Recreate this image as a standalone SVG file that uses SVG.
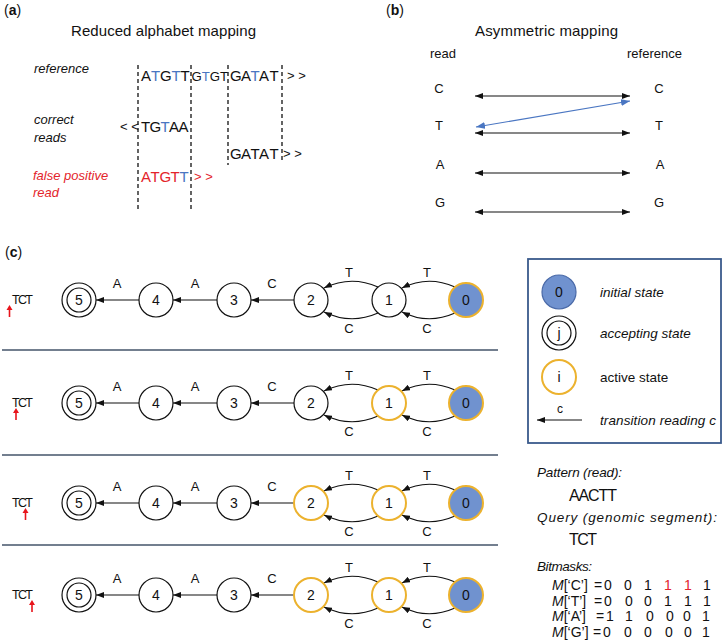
<svg xmlns="http://www.w3.org/2000/svg" width="724" height="644" viewBox="0 0 724 644">
<style>
text{font-family:"Liberation Sans",Arial,sans-serif;fill:#111}
.it{font-style:italic}
.b{font-weight:bold}
.blue{fill:#4a76c2}
.red{fill:#e3242b}
.seq{font-size:15px}
.sq2{font-size:13.2px}
.sm{font-size:13px}
.lab{font-size:13px}
.num{font-size:14px;text-anchor:middle}
.el{font-size:13px;text-anchor:middle}
.dash{stroke:#111;stroke-width:1.3;stroke-dasharray:4 3;fill:none}
.ln{stroke:#111;stroke-width:1.2;fill:none}
.bl{stroke:#4a76c2;stroke-width:1.2;fill:none}
.nd{fill:#fff;stroke:#111;stroke-width:1.2}
.act{fill:#fff;stroke:#ecb22e;stroke-width:2}
.ini{fill:#7092cf;stroke:#ecb22e;stroke-width:2}
.sep{stroke:#44546a;stroke-width:1.5}
.ra{stroke:#e8141b;stroke-width:1.6}
.bm{font-size:14px;text-anchor:middle}
.tct{font-size:12.5px}
</style>
<defs>
<marker id="ah" markerUnits="userSpaceOnUse" markerWidth="8" markerHeight="6" refX="8" refY="3" orient="auto-start-reverse"><path d="M0,0 L8,3 L0,6 z" fill="#111"/></marker>
<marker id="ahb" markerUnits="userSpaceOnUse" markerWidth="9" markerHeight="7" refX="9" refY="3.5" orient="auto-start-reverse"><path d="M0,0 L9,3.5 L0,7 z" fill="#4a76c2"/></marker>
</defs>

<!-- panel a -->
<g id="panel-a">
<text x="4" y="15" style="font-size:14px">(<tspan class="b">a</tspan>)</text>
<text x="71" y="35.5" style="font-size:15px" textLength="185">Reduced alphabet mapping</text>
<text x="34" y="73" class="lab it">reference</text>
<text x="34" y="124" class="lab it">correct</text>
<text x="34" y="141.5" class="lab it">reads</text>
<text x="33" y="180" class="lab it red">false positive</text>
<text x="33" y="197" class="lab it red">read</text>
<g id="dashes">
<line class="dash" x1="138" y1="65" x2="138" y2="212"/>
<line class="dash" x1="191" y1="65" x2="191" y2="212"/>
<line class="dash" x1="228" y1="65" x2="228" y2="165"/>
<line class="dash" x1="282" y1="65" x2="282" y2="163"/>
</g>
<text y="81" class="seq"><tspan x="141">A</tspan><tspan x="151" class="blue">T</tspan><tspan x="160">G</tspan><tspan x="171.5" class="blue">T</tspan><tspan x="180.5">T</tspan><tspan x="191.5" class="sq2">G</tspan><tspan x="201.8" class="sq2 blue">T</tspan><tspan x="209.8" class="sq2">G</tspan><tspan x="220" class="sq2">T</tspan><tspan x="230">G</tspan><tspan x="241">A</tspan><tspan x="250.5" class="blue">T</tspan><tspan x="259">A</tspan><tspan x="269.5">T</tspan><tspan x="287" y="80" class="sm">&gt; &gt;</tspan></text>
<text y="131" class="sm"><tspan x="120">&lt; &lt;</tspan><tspan x="141" y="132" class="seq">T</tspan><tspan x="149.5" class="seq">G</tspan><tspan x="160.5" class="seq blue">T</tspan><tspan x="169" class="seq">A</tspan><tspan x="178.5" class="seq">A</tspan></text>
<text y="159" class="seq"><tspan x="230">G</tspan><tspan x="241">A</tspan><tspan x="250.5">T</tspan><tspan x="259">A</tspan><tspan x="269.5">T</tspan><tspan x="283" y="158" class="sm">&gt; &gt;</tspan></text>
<text y="182" class="seq red"><tspan x="141">A</tspan><tspan x="150.5">T</tspan><tspan x="159.5">G</tspan><tspan x="170.5">T</tspan><tspan x="179.5" class="blue">T</tspan><tspan x="194" y="181" class="sm">&gt; &gt;</tspan></text>
</g>

<!-- panel b -->
<g id="panel-b">
<text x="386" y="15" style="font-size:14px">(<tspan class="b">b</tspan>)</text>
<text x="475" y="35.5" style="font-size:15px" textLength="143">Asymmetric mapping</text>
<text x="430" y="58" class="lab">read</text>
<text x="627" y="58" class="lab">reference</text>
<g id="b-read">
<text x="439" y="93" class="el">C</text>
<text x="439" y="130" class="el">T</text>
<text x="440" y="169" class="el">A</text>
<text x="440" y="206.5" class="el">G</text>
</g>
<g id="b-ref">
<text x="659" y="93" class="el">C</text>
<text x="659" y="130" class="el">T</text>
<text x="660" y="169" class="el">A</text>
<text x="659" y="206.5" class="el">G</text>
</g>
<g id="b-connectors">
<line class="ln" x1="475" y1="96" x2="630" y2="96" marker-start="url(#ah)" marker-end="url(#ah)"/>
<line class="ln" x1="475" y1="133" x2="630" y2="133" marker-start="url(#ah)" marker-end="url(#ah)"/>
<line class="ln" x1="475" y1="173" x2="630" y2="173" marker-start="url(#ah)" marker-end="url(#ah)"/>
<line class="ln" x1="475" y1="212" x2="630" y2="212" marker-start="url(#ah)" marker-end="url(#ah)"/>
<line class="bl" x1="476" y1="127" x2="630" y2="101" marker-start="url(#ahb)" marker-end="url(#ahb)"/>
</g>
</g>

<!-- panel c -->
<text x="5" y="257" style="font-size:14px">(<tspan class="b">c</tspan>)</text>
<g id="separators">
<line class="sep" x1="2" y1="350" x2="498" y2="350"/>
<line class="sep" x1="2" y1="455" x2="498" y2="455"/>
<line class="sep" x1="2" y1="545" x2="498" y2="545"/>
</g>

<!-- row label TCT + red pointers -->
<g id="row-labels">
<text x="12" y="304" class="tct" textLength="21">TCT</text>
<line class="ra" x1="9.5" y1="317" x2="9.5" y2="309"/><path d="M6.5,310 L9.5,305 L12.5,310 z" fill="#e8141b"/>
<text x="12" y="407" class="tct" textLength="21">TCT</text>
<line class="ra" x1="16" y1="420" x2="16" y2="412"/><path d="M13,413 L16,408 L19,413 z" fill="#e8141b"/>
<text x="12" y="507" class="tct" textLength="21">TCT</text>
<line class="ra" x1="25.5" y1="520" x2="25.5" y2="512"/><path d="M22.5,513 L25.5,508 L28.5,513 z" fill="#e8141b"/>
<text x="12" y="599" class="tct" textLength="21">TCT</text>
<line class="ra" x1="32" y1="612" x2="32" y2="604"/><path d="M29,605 L32,600 L35,605 z" fill="#e8141b"/>
</g>

<g id="connectors">
<!-- row 1 y=300 -->
<line class="ln" x1="294" y1="300" x2="251" y2="300" marker-end="url(#ah)"/>
<line class="ln" x1="217" y1="300" x2="173" y2="300" marker-end="url(#ah)"/>
<line class="ln" x1="139" y1="300" x2="96" y2="300" marker-end="url(#ah)"/>
<path class="ln" d="M378,287 Q351,275 324,288" marker-end="url(#ah)"/>
<path class="ln" d="M378,313 Q351,325 324,312" marker-end="url(#ah)"/>
<path class="ln" d="M455,287 Q428,275 402,288" marker-end="url(#ah)"/>
<path class="ln" d="M455,313 Q428,325 402,312" marker-end="url(#ah)"/>
<!-- row 2 y=403 -->
<line class="ln" x1="294" y1="403" x2="251" y2="403" marker-end="url(#ah)"/>
<line class="ln" x1="217" y1="403" x2="173" y2="403" marker-end="url(#ah)"/>
<line class="ln" x1="139" y1="403" x2="96" y2="403" marker-end="url(#ah)"/>
<path class="ln" d="M378,390 Q351,378 324,391" marker-end="url(#ah)"/>
<path class="ln" d="M378,416 Q351,428 324,415" marker-end="url(#ah)"/>
<path class="ln" d="M455,390 Q428,378 402,391" marker-end="url(#ah)"/>
<path class="ln" d="M455,416 Q428,428 402,415" marker-end="url(#ah)"/>
<!-- row 3 y=503 -->
<line class="ln" x1="294" y1="503" x2="251" y2="503" marker-end="url(#ah)"/>
<line class="ln" x1="217" y1="503" x2="173" y2="503" marker-end="url(#ah)"/>
<line class="ln" x1="139" y1="503" x2="96" y2="503" marker-end="url(#ah)"/>
<path class="ln" d="M378,490 Q351,478 324,491" marker-end="url(#ah)"/>
<path class="ln" d="M378,516 Q351,528 324,515" marker-end="url(#ah)"/>
<path class="ln" d="M455,490 Q428,478 402,491" marker-end="url(#ah)"/>
<path class="ln" d="M455,516 Q428,528 402,515" marker-end="url(#ah)"/>
<!-- row 4 y=595 -->
<line class="ln" x1="294" y1="595" x2="251" y2="595" marker-end="url(#ah)"/>
<line class="ln" x1="217" y1="595" x2="173" y2="595" marker-end="url(#ah)"/>
<line class="ln" x1="139" y1="595" x2="96" y2="595" marker-end="url(#ah)"/>
<path class="ln" d="M378,582 Q351,570 324,583" marker-end="url(#ah)"/>
<path class="ln" d="M378,608 Q351,620 324,607" marker-end="url(#ah)"/>
<path class="ln" d="M455,582 Q428,570 402,583" marker-end="url(#ah)"/>
<path class="ln" d="M455,608 Q428,620 402,607" marker-end="url(#ah)"/>
<!-- legend arrow -->
<line class="ln" x1="582" y1="420" x2="537" y2="420" marker-end="url(#ah)"/>
</g>

<g id="edge-labels">
<text x="117" y="288" class="el">A</text><text x="195" y="288" class="el">A</text><text x="272" y="288" class="el">C</text>
<text x="349" y="277" class="el">T</text><text x="427" y="277" class="el">T</text><text x="349" y="333" class="el">C</text><text x="427" y="333" class="el">C</text>
<text x="117" y="391" class="el">A</text><text x="195" y="391" class="el">A</text><text x="272" y="391" class="el">C</text>
<text x="349" y="380" class="el">T</text><text x="427" y="380" class="el">T</text><text x="349" y="436" class="el">C</text><text x="427" y="436" class="el">C</text>
<text x="117" y="491" class="el">A</text><text x="195" y="491" class="el">A</text><text x="272" y="491" class="el">C</text>
<text x="349" y="480" class="el">T</text><text x="427" y="480" class="el">T</text><text x="349" y="536" class="el">C</text><text x="427" y="536" class="el">C</text>
<text x="117" y="583" class="el">A</text><text x="195" y="583" class="el">A</text><text x="272" y="583" class="el">C</text>
<text x="349" y="572" class="el">T</text><text x="427" y="572" class="el">T</text><text x="349" y="628" class="el">C</text><text x="427" y="628" class="el">C</text>
</g>

<!-- row 1 nodes -->
<g id="r1-n5"><circle class="nd" cx="79" cy="300" r="17"/><circle class="nd" cx="79" cy="300" r="12"/><text x="79" y="305" class="num">5</text></g>
<g id="r1-n4"><circle class="nd" cx="156" cy="300" r="17"/><text x="156" y="305" class="num">4</text></g>
<g id="r1-n3"><circle class="nd" cx="234" cy="300" r="17"/><text x="234" y="305" class="num">3</text></g>
<g id="r1-n2"><circle class="nd" cx="311" cy="300" r="17"/><text x="311" y="305" class="num">2</text></g>
<g id="r1-n1"><circle class="nd" cx="389" cy="300" r="17"/><text x="389" y="305" class="num">1</text></g>
<g id="r1-n0"><circle class="ini" cx="466" cy="300" r="17"/><text x="466" y="305" class="num">0</text></g>
<!-- row 2 -->
<g id="r2-n5"><circle class="nd" cx="79" cy="403" r="17"/><circle class="nd" cx="79" cy="403" r="12"/><text x="79" y="408" class="num">5</text></g>
<g id="r2-n4"><circle class="nd" cx="156" cy="403" r="17"/><text x="156" y="408" class="num">4</text></g>
<g id="r2-n3"><circle class="nd" cx="234" cy="403" r="17"/><text x="234" y="408" class="num">3</text></g>
<g id="r2-n2"><circle class="nd" cx="311" cy="403" r="17"/><text x="311" y="408" class="num">2</text></g>
<g id="r2-n1"><circle class="act" cx="389" cy="403" r="17"/><text x="389" y="408" class="num">1</text></g>
<g id="r2-n0"><circle class="ini" cx="466" cy="403" r="17"/><text x="466" y="408" class="num">0</text></g>
<!-- row 3 -->
<g id="r3-n5"><circle class="nd" cx="79" cy="503" r="17"/><circle class="nd" cx="79" cy="503" r="12"/><text x="79" y="508" class="num">5</text></g>
<g id="r3-n4"><circle class="nd" cx="156" cy="503" r="17"/><text x="156" y="508" class="num">4</text></g>
<g id="r3-n3"><circle class="nd" cx="234" cy="503" r="17"/><text x="234" y="508" class="num">3</text></g>
<g id="r3-n2"><circle class="act" cx="311" cy="503" r="17"/><text x="311" y="508" class="num">2</text></g>
<g id="r3-n1"><circle class="act" cx="389" cy="503" r="17"/><text x="389" y="508" class="num">1</text></g>
<g id="r3-n0"><circle class="ini" cx="466" cy="503" r="17"/><text x="466" y="508" class="num">0</text></g>
<!-- row 4 -->
<g id="r4-n5"><circle class="nd" cx="79" cy="595" r="17"/><circle class="nd" cx="79" cy="595" r="12"/><text x="79" y="600" class="num">5</text></g>
<g id="r4-n4"><circle class="nd" cx="156" cy="595" r="17"/><text x="156" y="600" class="num">4</text></g>
<g id="r4-n3"><circle class="nd" cx="234" cy="595" r="17"/><text x="234" y="600" class="num">3</text></g>
<g id="r4-n2"><circle class="act" cx="311" cy="595" r="17"/><text x="311" y="600" class="num">2</text></g>
<g id="r4-n1"><circle class="act" cx="389" cy="595" r="17"/><text x="389" y="600" class="num">1</text></g>
<g id="r4-n0"><circle class="ini" cx="466" cy="595" r="17"/><text x="466" y="600" class="num">0</text></g>

<!-- legend -->
<g id="legend">
<rect x="528" y="259" width="193" height="184" fill="none" stroke="#3a5a8c" stroke-width="1.8"/>
<g id="leg-initial"><circle cx="559" cy="292" r="17" fill="#7092cf" stroke="#4a6aa8" stroke-width="1.2"/><text x="559" y="297" class="num">0</text><text x="600" y="297" class="it" style="font-size:13.5px">initial state</text></g>
<g id="leg-accepting"><circle class="nd" cx="559" cy="333" r="17"/><circle class="nd" cx="559" cy="333" r="12"/><text x="559" y="338" class="num">j</text><text x="600" y="338" class="it" style="font-size:13.5px">accepting state</text></g>
<g id="leg-active"><circle class="act" cx="559" cy="377" r="17"/><text x="559" y="382" class="num">i</text><text x="600" y="382" style="font-size:13.5px">active state</text></g>
<g id="leg-transition"><text x="560" y="413" class="el" style="font-size:12px">c</text><text x="600" y="425" class="it" style="font-size:13.5px" textLength="116">transition reading c</text></g>
</g>

<!-- pattern / bitmasks -->
<g id="bitmasks">
<text x="537" y="477" class="it" style="font-size:13.5px" textLength="85">Pattern (read):</text>
<text x="569" y="501" style="font-size:16px" textLength="48">AACTT</text>
<text x="537" y="522" class="it" style="font-size:13.5px" textLength="180">Query (genomic segment):</text>
<text x="569" y="545" style="font-size:16px" textLength="28">TCT</text>
<text x="537" y="571" class="it" style="font-size:13.5px" textLength="55">Bitmasks:</text>
<text x="552" y="590" style="font-size:14px"><tspan class="it">M</tspan>[‘C’]</text>
<text x="552" y="605.5" style="font-size:14px"><tspan class="it">M</tspan>[‘T’]</text>
<text x="552" y="621" style="font-size:14px"><tspan class="it">M</tspan>[‘A’]</text>
<text x="552" y="636.5" style="font-size:14px"><tspan class="it">M</tspan>[‘G’]</text>
<text x="598" y="590" class="bm">=</text><text x="608" y="590" class="bm">0</text><text x="628" y="590" class="bm">0</text><text x="648" y="590" class="bm">1</text><text x="668" y="590" class="bm red">1</text><text x="688" y="590" class="bm red">1</text><text x="707" y="590" class="bm">1</text>
<text x="598" y="605.5" class="bm">=</text><text x="608" y="605.5" class="bm">0</text><text x="629" y="605.5" class="bm">0</text><text x="648" y="605.5" class="bm">0</text><text x="668" y="605.5" class="bm">1</text><text x="688" y="605.5" class="bm">1</text><text x="707" y="605.5" class="bm">1</text>
<text x="600" y="621" class="bm">=</text><text x="610" y="621" class="bm">1</text><text x="629" y="621" class="bm">1</text><text x="650" y="621" class="bm">0</text><text x="670" y="621" class="bm">0</text><text x="687" y="621" class="bm">0</text><text x="706" y="621" class="bm">1</text>
<text x="597" y="636.5" class="bm">=</text><text x="607" y="636.5" class="bm">0</text><text x="628" y="636.5" class="bm">0</text><text x="648" y="636.5" class="bm">0</text><text x="669" y="636.5" class="bm">0</text><text x="688" y="636.5" class="bm">0</text><text x="706" y="636.5" class="bm">1</text>
</g>
</svg>
